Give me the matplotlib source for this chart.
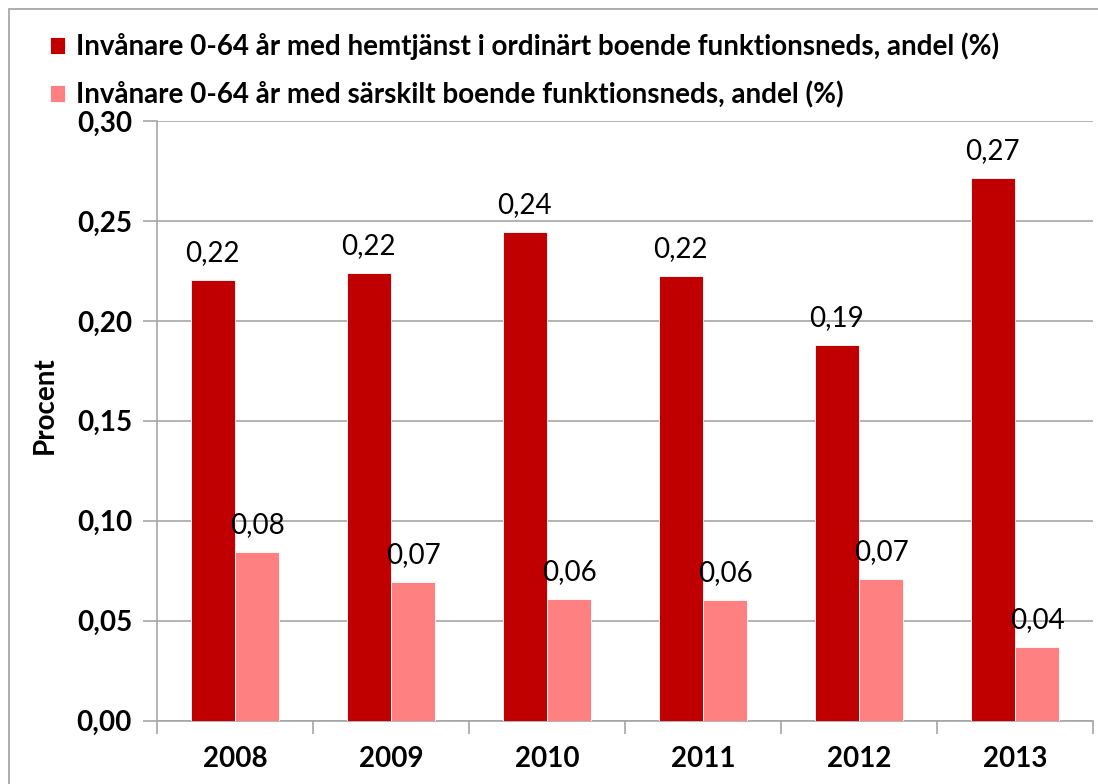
import numpy as np
import matplotlib.pyplot as plt
from matplotlib.patches import Rectangle

years = ['2008', '2009', '2010', '2011', '2012', '2013']
hemtjanst = [0.2205, 0.2238, 0.2445, 0.2225, 0.188, 0.2715]
sarskilt = [0.0845, 0.0694, 0.0609, 0.0604, 0.0709, 0.0369]
label_hem = 'Invånare 0-64 år med hemtjänst i ordinärt boende funktionsneds, andel (%)'
label_sar = 'Invånare 0-64 år med särskilt boende funktionsneds, andel (%)'

dark = '#c00000'
light = '#ff8080'
grid_col = '#a6a6a6'

plt.rcParams['font.family'] = ['Lato', 'DejaVu Sans']

fig = plt.figure(figsize=(10.98, 7.84), dpi=100)
fig.patches.append(Rectangle((9 / 1098, -0.01), 1.2, 1 - 9 / 784 + 0.01, transform=fig.transFigure,
                             fill=False, edgecolor='#a0a0a0', linewidth=1.2))
ax = fig.add_axes([157 / 1098, 1 - 720.7 / 784, (1093 - 157) / 1098, (720.7 - 121) / 784])

x = np.arange(len(years))
w = 0.28
b1 = ax.bar(x - w / 2 - 0.003, hemtjanst, w, color=dark, edgecolor='white', linewidth=0.6,
            label=label_hem, zorder=3)
b2 = ax.bar(x + w / 2 + 0.003, sarskilt, w, color=light, edgecolor='white', linewidth=0.6,
            label=label_sar, zorder=3)

for bars, vals in ((b1, hemtjanst), (b2, sarskilt)):
    for r, v in zip(bars, vals):
        txt = f'{np.floor(v * 100 + 0.5) / 100:.2f}'.replace('.', ',')
        ax.annotate(txt, (r.get_x() + r.get_width() / 2, v),
                    xytext=(0, 10), textcoords='offset points', ha='center', va='bottom',
                    fontsize=20, color='black', zorder=5)

ax.set_xlim(-0.5, len(years) - 0.5)
ax.set_ylim(0, 0.30)
ax.set_yticks(np.arange(0, 0.301, 0.05))
ax.set_yticklabels([f'{t:.2f}'.replace('.', ',') for t in np.arange(0, 0.301, 0.05)],
                   fontsize=20, fontweight='bold')
ax.yaxis.grid(True, color=grid_col, linewidth=1.2, zorder=0)
ax.set_xticks(x)
ax.set_xticklabels(years, fontsize=20, fontweight='bold')
ax.set_xticks(np.arange(-0.5, len(years), 1), minor=True)
ax.tick_params(axis='x', which='major', length=0, pad=18)
ax.tick_params(axis='x', which='minor', length=9, color=grid_col, width=1.2)
ax.tick_params(axis='y', length=10, color=grid_col, width=1.2, pad=8)
for s in ('top', 'right'):
    ax.spines[s].set_visible(False)
for s in ('left', 'bottom'):
    ax.spines[s].set_color(grid_col)
    ax.spines[s].set_linewidth(1.2)

fig.text(45 / 1098, 1 - 405 / 784, 'Procent', rotation=90, ha='center', va='center',
         fontsize=20, fontweight='bold')

fig.legend(handles=[b1, b2], loc='upper left', bbox_to_anchor=(36 / 1098, 1 - 19 / 784),
           frameon=False, handlelength=0.55, handleheight=0.55, handletextpad=0.4,
           labelspacing=0.75, borderpad=0, prop={'weight': 'bold', 'size': 20})

fig.savefig('out.png', dpi=100)
